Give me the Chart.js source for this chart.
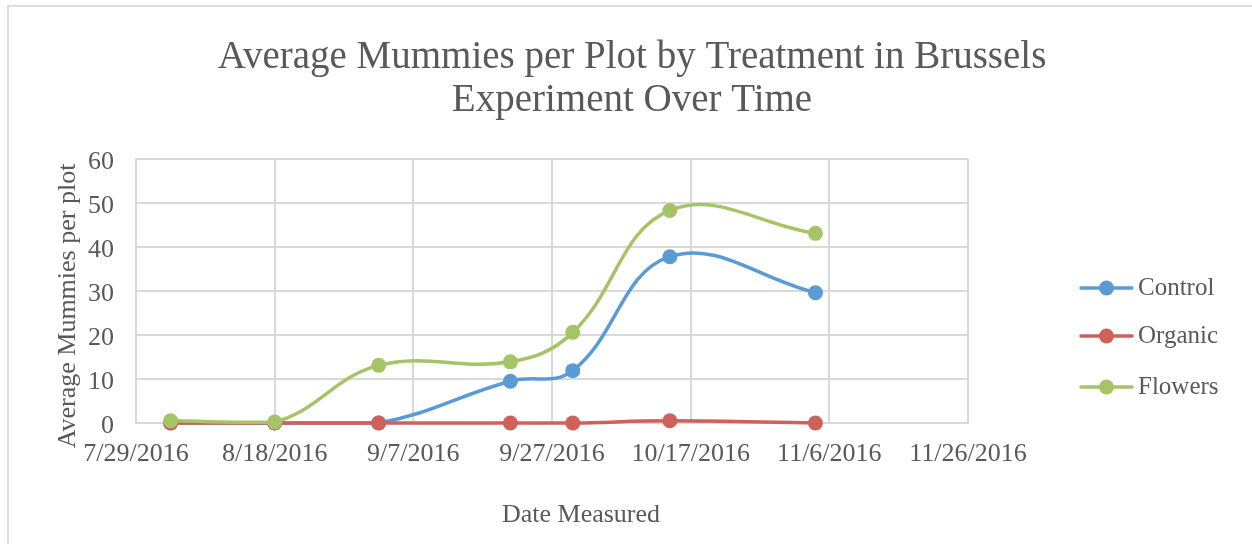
<!DOCTYPE html>
<html><head><meta charset="utf-8">
<script src="https://cdn.jsdelivr.net/npm/chart.js@4"></script>
<style>
html,body{margin:0;padding:0;background:#fff;width:1252px;height:544px;overflow:hidden;}
#frame{position:absolute;left:7px;top:5px;width:1260px;height:560px;border-top:2px solid #dedede;border-left:2px solid #dedede;}
canvas{position:absolute;left:0;top:0;}
</style></head><body>
<div id="frame"></div>
<canvas id="c" width="1252" height="544"></canvas>
<script>
// ---- data ----
const seriesNames = ['Control', 'Organic', 'Flowers'];
const measureDates = ['8/3/2016', '8/18/2016', '9/2/2016', '9/21/2016', '9/30/2016', '10/14/2016', '11/4/2016'];
const controlValues = [0, 0, 0, 9.5, 11.9, 37.8, 29.6];
const organicValues = [0, 0, 0, 0, 0, 0.5, 0];
const flowersValues = [0.5, 0.2, 13.1, 13.9, 20.6, 48.3, 43.1];
const xTickLabels = ['7/29/2016', '8/18/2016', '9/7/2016', '9/27/2016', '10/17/2016', '11/6/2016', '11/26/2016'];
const chartTitle = ['Average Mummies per Plot by Treatment in Brussels', 'Experiment Over Time'];
const yAxisTitle = 'Average Mummies per plot';
const xAxisTitle = 'Date Measured';

const startDate = xTickLabels[0];
function dayOffset(s) {
  const [m, d, y] = s.split('/').map(Number);
  const [m0, d0, y0] = startDate.split('/').map(Number);
  return (Date.UTC(y, m - 1, d) - Date.UTC(y0, m0 - 1, d0)) / 86400000;
}
const xMax = dayOffset(xTickLabels[xTickLabels.length - 1]);
const xStep = dayOffset(xTickLabels[1]);

const colors = ['#5B9BD5', '#D0605A', '#A6C465'];
const allValues = [controlValues, organicValues, flowersValues];
const textColor = '#595959';
const serif = '"Liberation Serif", "DejaVu Serif", serif';

const datasets = seriesNames.map((name, i) => ({
  label: name,
  data: measureDates.map((d, j) => ({ x: dayOffset(d), y: allValues[i][j] })),
  borderColor: colors[i],
  backgroundColor: colors[i],
  pointBackgroundColor: colors[i],
  pointBorderWidth: 0,
  pointRadius: 7.5,
  pointHoverRadius: 7.5,
  borderWidth: 3.5,
  tension: 0.4,
  clip: false,
  order: 2 - i
}));

const textPlugin = {
  id: 'texts',
  afterDraw(chart) {
    const ctx = chart.ctx;
    ctx.save();
    ctx.fillStyle = textColor;
    ctx.textAlign = 'center';
    ctx.textBaseline = 'middle';
    ctx.font = '39px ' + serif;
    ctx.fillText(chartTitle[0], 632, 58);
    ctx.fillText(chartTitle[1], 632, 101);
    ctx.font = '26px ' + serif;
    ctx.fillText(xAxisTitle, 581, 515);
    ctx.save();
    ctx.translate(68, 306);
    ctx.rotate(-Math.PI / 2);
    ctx.fillText(yAxisTitle, 0, 0);
    ctx.restore();
    // legend
    const rows = [288, 336, 387];
    ctx.textAlign = 'left';
    ctx.font = '25px ' + serif;
    chart.data.datasets.forEach((ds, i) => {
      const y = rows[i];
      ctx.strokeStyle = ds.borderColor;
      ctx.lineWidth = 3.5;
      ctx.lineCap = 'round';
      ctx.beginPath();
      ctx.moveTo(1081, y);
      ctx.lineTo(1132, y);
      ctx.stroke();
      ctx.fillStyle = ds.borderColor;
      ctx.beginPath();
      ctx.arc(1106.5, y, 7.5, 0, Math.PI * 2);
      ctx.fill();
      ctx.fillStyle = textColor;
      ctx.fillText(ds.label, 1138, y);
    });
    ctx.restore();
  }
};

new Chart(document.getElementById('c'), {
  type: 'line',
  data: { datasets },
  options: {
    responsive: false,
    animation: false,
    devicePixelRatio: 1,
    layout: { padding: { left: 0, right: 284, top: 159, bottom: 0 } },
    plugins: { legend: { display: false }, title: { display: false }, tooltip: { enabled: false } },
    scales: {
      x: {
        type: 'linear',
        min: 0,
        max: xMax,
        afterFit: s => { s.height = 121; },
        afterBuildTicks: s => { s.ticks = xTickLabels.map((_, i) => ({ value: i * xStep })); },
        ticks: {
          stepSize: xStep,
          callback: (v) => xTickLabels[Math.round(v / xStep)],
          color: textColor,
          font: { family: serif, size: 26 },
          padding: 16,
          maxRotation: 0,
          autoSkip: false
        },
        grid: { color: '#d9d9d9', lineWidth: 2, drawTicks: false },
        border: { color: '#d9d9d9', width: 2 }
      },
      y: {
        min: 0,
        max: 60,
        afterFit: s => { s.width = 136; },
        ticks: {
          stepSize: 10,
          color: textColor,
          font: { family: serif, size: 26 },
          padding: 22,
          labelOffset: 3
        },
        grid: { color: '#d9d9d9', lineWidth: 2, drawTicks: false },
        border: { color: '#d9d9d9', width: 2 }
      }
    }
  },
  plugins: [textPlugin]
});
</script>
</body></html>
